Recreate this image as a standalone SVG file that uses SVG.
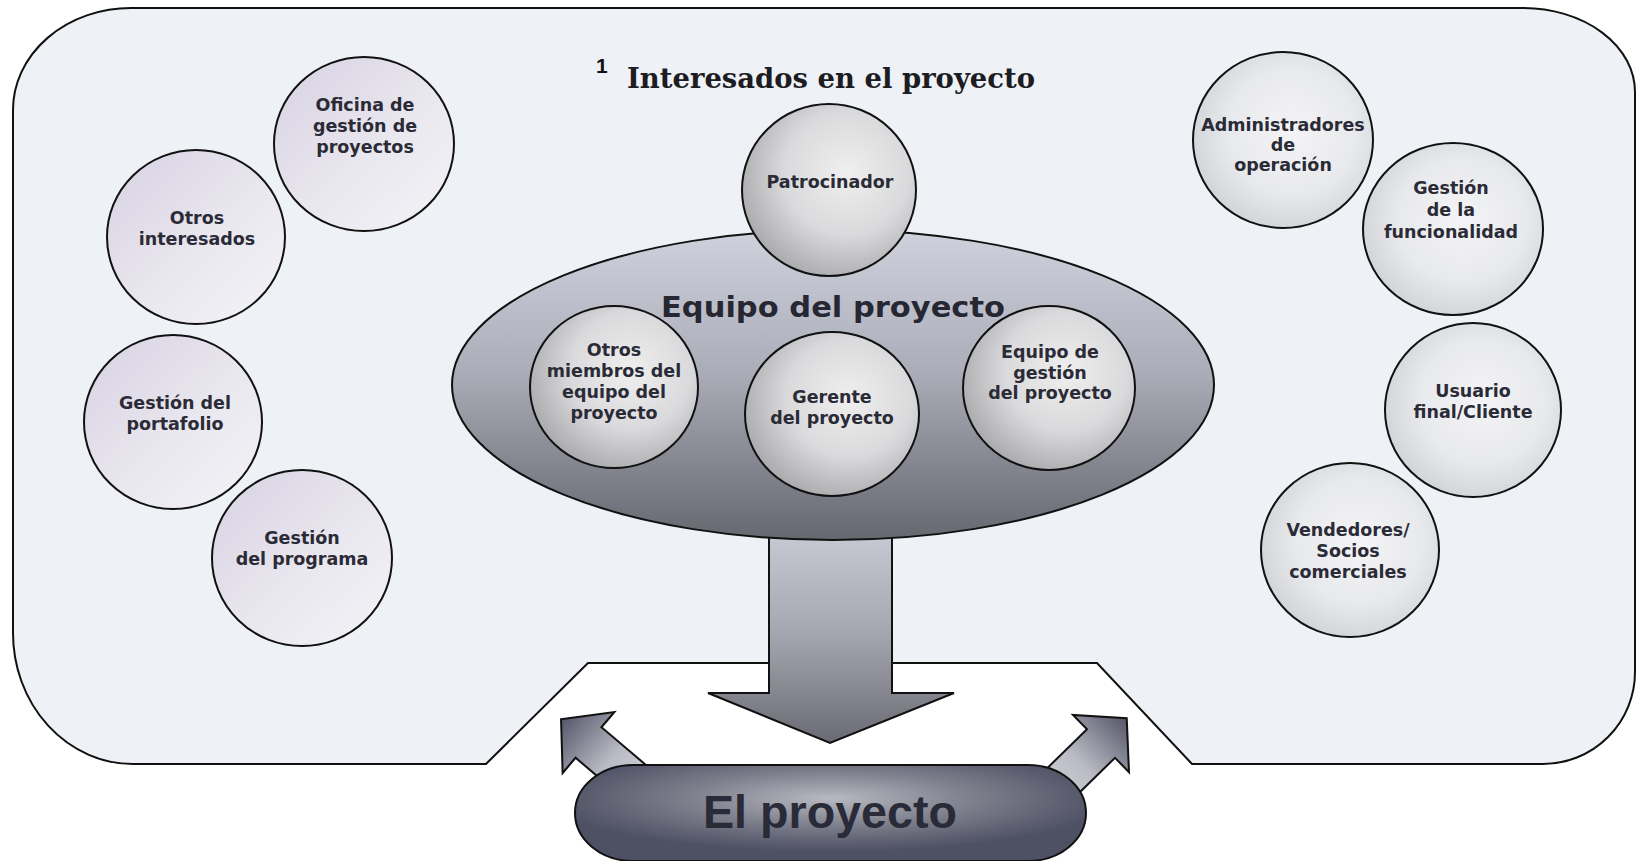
<svg xmlns="http://www.w3.org/2000/svg" width="1637" height="861" viewBox="0 0 1637 861">
<style>
.ol{stroke:#111;stroke-width:2;}
.lbl{font-family:"DejaVu Sans",Verdana,sans-serif;font-weight:bold;font-size:17.5px;fill:#2a2b36;text-anchor:middle;}
.lav{fill:url(#lavGrad);}
.gry{fill:url(#grayGrad);}
.inn{fill:url(#innGrad);}
</style>
<defs>
<linearGradient id="lavGrad" x1="0" y1="0" x2="1" y2="1">
<stop offset="0" stop-color="#d6d1e2"/><stop offset="0.6" stop-color="#ebe9f0"/><stop offset="1" stop-color="#f4f3f7"/>
</linearGradient>
<radialGradient id="grayGrad" cx="0.55" cy="0.45" r="0.6">
<stop offset="0" stop-color="#f4f4f6"/><stop offset="0.6" stop-color="#e8e9ec"/><stop offset="1" stop-color="#d0d1d6"/>
</radialGradient>
<radialGradient id="innGrad" cx="0.6" cy="0.4" r="0.65">
<stop offset="0" stop-color="#efefef"/><stop offset="0.55" stop-color="#dadadc"/><stop offset="1" stop-color="#a9a9ac"/>
</radialGradient>
<linearGradient id="ellGrad" x1="0" y1="0" x2="0" y2="1">
<stop offset="0" stop-color="#cfd2dc"/><stop offset="0.45" stop-color="#abadb8"/><stop offset="1" stop-color="#66676f"/>
</linearGradient>
<linearGradient id="downGrad" x1="0" y1="0" x2="0" y2="1">
<stop offset="0" stop-color="#c9ccd6"/><stop offset="0.5" stop-color="#a5a6af"/><stop offset="1" stop-color="#696a72"/>
</linearGradient>
<linearGradient id="sideGrad" x1="0" y1="0" x2="0" y2="1">
<stop offset="0" stop-color="#55576a"/><stop offset="0.55" stop-color="#b9bac3"/><stop offset="1" stop-color="#d6d7dc"/>
</linearGradient>
<radialGradient id="pillGrad" cx="0.5" cy="0.35" r="0.55">
<stop offset="0" stop-color="#b8b9c1"/><stop offset="0.5" stop-color="#7e808d"/><stop offset="1" stop-color="#4e5064"/>
</radialGradient>
<path id="sideArrow" d="M0,-36 L40,0 L20,0 L20,80 L-20,80 L-20,0 L-40,0 Z"/>
</defs>

<g id="frame">
<rect x="0" y="0" width="1637" height="861" fill="#ffffff"/>
<path class="ol" fill="#eef1f5" d="M131,8 L1523,8 A112,84 0 0 1 1635,92 L1635,672 A92,92 0 0 1 1543,764 L1192,764 L1097,663 L588,663 L486,764 L133,764 A120,131 0 0 1 13,633 L13,110 A118,102 0 0 1 131,8 Z"/>
</g>

<g id="title">
<text x="596" y="73" font-family="Liberation Sans, Arial, sans-serif" font-weight="bold" font-size="21" fill="#111">1</text>
<text x="627" y="88" font-family="DejaVu Serif, serif" font-weight="bold" font-size="27" fill="#1c1c22" textLength="408" lengthAdjust="spacingAndGlyphs">Interesados en el proyecto</text>
</g>

<g id="oficina">
<ellipse class="ol lav" cx="364" cy="144" rx="90" ry="87"/>
<text class="lbl"><tspan x="365" y="111">Oficina de</tspan><tspan x="365" y="132">gestión de</tspan><tspan x="365" y="153">proyectos</tspan></text>
</g>
<g id="otros-interesados">
<ellipse class="ol lav" cx="196" cy="237" rx="89" ry="87"/>
<text class="lbl"><tspan x="197" y="224">Otros</tspan><tspan x="197" y="245">interesados</tspan></text>
</g>
<g id="portafolio">
<ellipse class="ol lav" cx="173" cy="422" rx="89" ry="87"/>
<text class="lbl"><tspan x="175" y="409">Gestión del</tspan><tspan x="175" y="430">portafolio</tspan></text>
</g>
<g id="programa">
<ellipse class="ol lav" cx="302" cy="558" rx="90" ry="88"/>
<text class="lbl"><tspan x="302" y="544">Gestión</tspan><tspan x="302" y="565">del programa</tspan></text>
</g>

<g id="administradores">
<ellipse class="ol gry" cx="1283" cy="140" rx="90" ry="88"/>
<text class="lbl"><tspan x="1283" y="131">Administradores</tspan><tspan x="1283" y="151">de</tspan><tspan x="1283" y="171">operación</tspan></text>
</g>
<g id="funcionalidad">
<ellipse class="ol gry" cx="1453" cy="229" rx="90" ry="86"/>
<text class="lbl"><tspan x="1451" y="194">Gestión</tspan><tspan x="1451" y="216">de la</tspan><tspan x="1451" y="238">funcionalidad</tspan></text>
</g>
<g id="usuario">
<ellipse class="ol gry" cx="1473" cy="410" rx="88" ry="87"/>
<text class="lbl"><tspan x="1473" y="397">Usuario</tspan><tspan x="1473" y="418">final/Cliente</tspan></text>
</g>
<g id="vendedores">
<ellipse class="ol gry" cx="1350" cy="550" rx="89" ry="87"/>
<text class="lbl"><tspan x="1348" y="536">Vendedores/</tspan><tspan x="1348" y="557">Socios</tspan><tspan x="1348" y="578">comerciales</tspan></text>
</g>

<g id="connectors">
<polygon class="ol" stroke-width="1.5" fill="url(#downGrad)" points="769,525 892,525 892,693 954,693 830,743 708,693 769,693"/>
<use href="#sideArrow" class="ol" stroke-width="1.5" fill="url(#sideGrad)" transform="translate(588.5,742.5) rotate(-49.7)"/>
<use href="#sideArrow" class="ol" stroke-width="1.5" fill="url(#sideGrad)" transform="translate(1101,743.5) rotate(45.6)"/>
</g>

<g id="equipo">
<ellipse class="ol" fill="url(#ellGrad)" cx="833" cy="385" rx="381" ry="155"/>
</g>
<g id="patrocinador">
<ellipse class="ol inn" cx="829" cy="190" rx="87" ry="86"/>
<text class="lbl" x="830" y="188">Patrocinador</text>
</g>
<g id="otros-miembros">
<ellipse class="ol inn" cx="614" cy="387" rx="84" ry="81"/>
<text class="lbl"><tspan x="614" y="356">Otros</tspan><tspan x="614" y="377">miembros del</tspan><tspan x="614" y="398">equipo del</tspan><tspan x="614" y="419">proyecto</tspan></text>
</g>
<g id="gerente">
<ellipse class="ol inn" cx="832" cy="414" rx="87" ry="82"/>
<text class="lbl"><tspan x="832" y="403">Gerente</tspan><tspan x="832" y="424">del proyecto</tspan></text>
</g>
<g id="equipo-gestion">
<ellipse class="ol inn" cx="1049" cy="388" rx="86" ry="82"/>
<text class="lbl"><tspan x="1050" y="358">Equipo de</tspan><tspan x="1050" y="379">gestión</tspan><tspan x="1050" y="399">del proyecto</tspan></text>
</g>
<g id="equipo-label">
<text x="833" y="317" font-family="DejaVu Sans, sans-serif" font-weight="bold" font-size="29" fill="#262733" text-anchor="middle" textLength="344" lengthAdjust="spacingAndGlyphs">Equipo del proyecto</text>
</g>

<g id="el-proyecto">
<rect class="ol" fill="url(#pillGrad)" x="575" y="765" width="511" height="96" rx="58" ry="48"/>
<text x="830" y="828" font-family="Liberation Sans, Arial, sans-serif" font-weight="bold" font-size="47" fill="#2a2b38" text-anchor="middle" textLength="254" lengthAdjust="spacingAndGlyphs">El proyecto</text>
</g>
</svg>
